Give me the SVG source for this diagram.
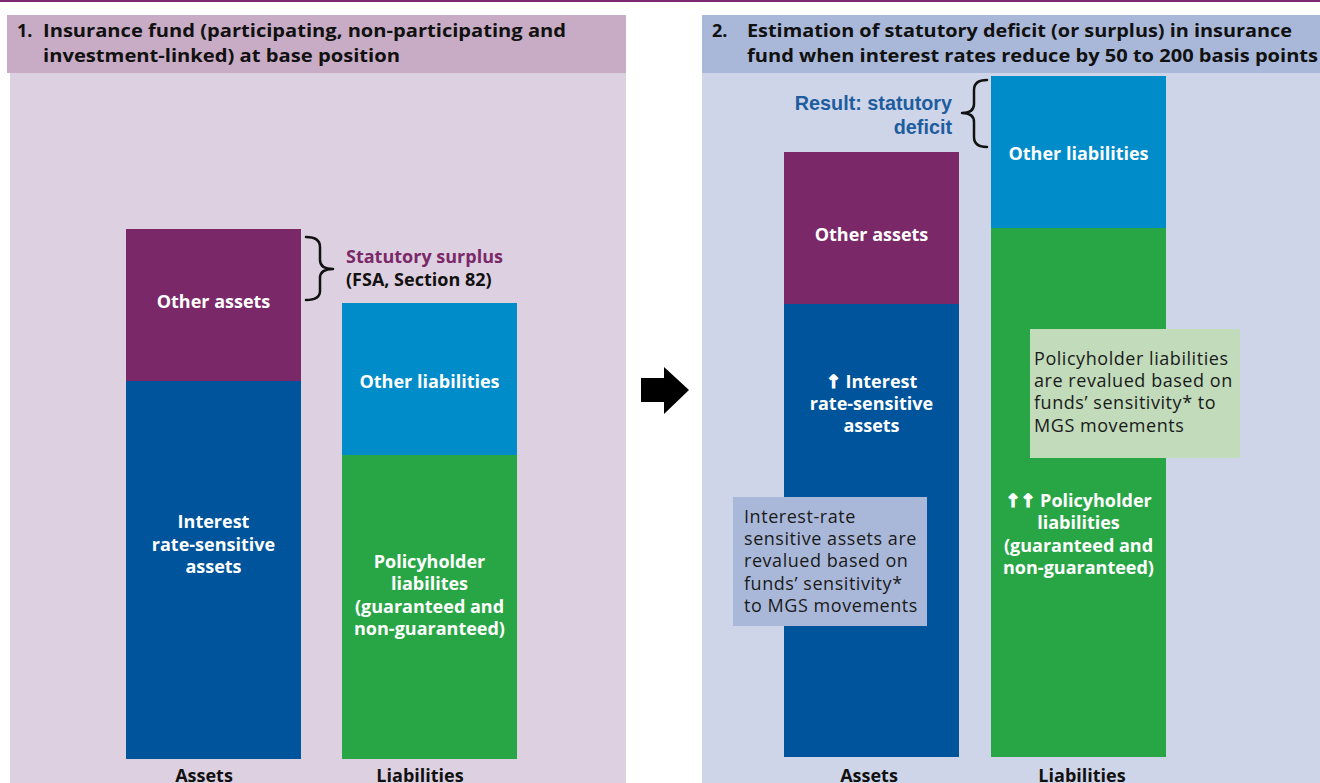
<svg xmlns="http://www.w3.org/2000/svg" width="1320" height="783" viewBox="0 0 1320 783">
<style>
.hdr{font-family:"Open Sans","Noto Sans",sans-serif;font-weight:700;font-size:18px;fill:#111}
.lbl{font-family:"Open Sans","Noto Sans","DejaVu Sans",sans-serif;font-weight:700;font-size:18px;fill:#fff;text-anchor:middle}
.arr{stroke:#fff;stroke-width:1.2}
.axis{font-family:"Open Sans","Noto Sans",sans-serif;font-weight:700;font-size:18px;fill:#111;text-anchor:middle}
.note{font-family:"Open Sans","Noto Sans",sans-serif;font-size:18px;fill:#1a1a1a;letter-spacing:0.55px}
.res{font-family:"Liberation Sans",Arial,sans-serif;font-weight:700;font-size:19.8px;fill:#1d5d9f;text-anchor:end}
.brace{fill:none;stroke:#111;stroke-width:2.5;stroke-linecap:round;stroke-linejoin:round}
</style>
<rect x="0" y="0" width="1320" height="783" fill="#ffffff"/>
<rect x="0" y="0" width="1320" height="2" fill="#7b2a6f"/>

<g id="panel1">
<rect x="10" y="73" width="616" height="710" fill="#ddd0e0"/>
<rect x="7" y="15" width="619" height="58" fill="#c8abc4"/>
<text class="hdr" x="17" y="37">1.</text>
<text class="hdr" x="43" y="37" textLength="523" lengthAdjust="spacingAndGlyphs">Insurance fund (participating, non-participating and</text>
<text class="hdr" x="43" y="62" textLength="357" lengthAdjust="spacingAndGlyphs">investment-linked) at base position</text>
</g>

<g id="panel2">
<rect x="702" y="73" width="618" height="710" fill="#cfd5e8"/>
<rect x="702" y="15" width="618" height="58" fill="#a9b8d9"/>
<text class="hdr" x="712" y="37">2.</text>
<text class="hdr" x="747" y="37" textLength="545" lengthAdjust="spacingAndGlyphs">Estimation of statutory deficit (or surplus) in insurance</text>
<text class="hdr" x="747" y="62" textLength="571" lengthAdjust="spacingAndGlyphs">fund when interest rates reduce by 50 to 200 basis points</text>
</g>

<g id="p1-other-assets">
<rect x="126" y="229" width="175" height="152" fill="#7b2869"/>
<text class="lbl" x="213.5" y="308">Other assets</text>
</g>
<g id="p1-rate-sensitive-assets">
<rect x="126" y="381" width="175" height="378" fill="#00549b"/>
<text class="lbl" x="213.5" y="528">Interest</text>
<text class="lbl" x="213.5" y="551">rate-sensitive</text>
<text class="lbl" x="213.5" y="573">assets</text>
</g>
<g id="p1-other-liabilities">
<rect x="342" y="303" width="175" height="152" fill="#008bc9"/>
<text class="lbl" x="429.5" y="388">Other liabilities</text>
</g>
<g id="p1-policyholder-liabilities">
<rect x="342" y="455" width="175" height="304" fill="#28a646"/>
<text class="lbl" x="429.5" y="568">Policyholder</text>
<text class="lbl" x="429.5" y="590">liabilites</text>
<text class="lbl" x="429.5" y="613">(guaranteed and</text>
<text class="lbl" x="429.5" y="635">non-guaranteed)</text>
</g>
<g id="p1-surplus-label">
<text class="hdr" x="346" y="263" style="fill:#7b2869">Statutory surplus</text>
<text class="hdr" x="346" y="286">(FSA, Section 82)</text>
</g>

<g id="p2-other-assets">
<rect x="784" y="152" width="175" height="152" fill="#7b2869"/>
<text class="lbl" x="871.5" y="241">Other assets</text>
</g>
<g id="p2-rate-sensitive-assets">
<rect x="784" y="304" width="175" height="453" fill="#00549b"/>
<text class="lbl" x="871.5" y="388"><tspan class="arr">↑</tspan> Interest</text>
<text class="lbl" x="871.5" y="410">rate-sensitive</text>
<text class="lbl" x="871.5" y="432">assets</text>
</g>
<g id="p2-other-liabilities">
<rect x="991" y="76" width="175" height="152" fill="#008bc9"/>
<text class="lbl" x="1078.5" y="160">Other liabilities</text>
</g>
<g id="p2-policyholder-liabilities">
<rect x="991" y="228" width="175" height="529" fill="#28a646"/>
<text class="lbl" x="1078.5" y="507"><tspan class="arr">↑↑</tspan> Policyholder</text>
<text class="lbl" x="1078.5" y="529">liabilities</text>
<text class="lbl" x="1078.5" y="552">(guaranteed and</text>
<text class="lbl" x="1078.5" y="574">non-guaranteed)</text>
</g>
<g id="p2-liabilities-note">
<rect x="1030" y="329" width="210" height="129" fill="#c1dbbb"/>
<text class="note" x="1034" y="365">Policyholder liabilities</text>
<text class="note" x="1034" y="387">are revalued based on</text>
<text class="note" x="1034" y="409">funds’ sensitivity* to</text>
<text class="note" x="1034" y="432">MGS movements</text>
</g>
<g id="p2-assets-note">
<rect x="733" y="497" width="194" height="129" fill="#a9b8d9"/>
<text class="note" x="744" y="523">Interest-rate</text>
<text class="note" x="744" y="545">sensitive assets are</text>
<text class="note" x="744" y="567">revalued based on</text>
<text class="note" x="744" y="590">funds’ sensitivity*</text>
<text class="note" x="744" y="612">to MGS movements</text>
</g>
<g id="p2-deficit-label">
<text class="res" x="952" y="110">Result: statutory</text>
<text class="res" x="952" y="134">deficit</text>
</g>

<g id="axis-labels">
<text class="axis" x="204" y="782">Assets</text>
<text class="axis" x="420" y="782">Liabilities</text>
<text class="axis" x="869" y="782">Assets</text>
<text class="axis" x="1082" y="782">Liabilities</text>
</g>

<g id="connectors">
<path class="brace" d="M306,237 Q320,237 320,247 L320,260 Q320,269 333,269 Q320,269 320,278 L320,291 Q320,300 306,300"/>
<path class="brace" d="M987,80 Q974,80 974,90 L974,104 Q974,113 962,113 Q974,113 974,122 L974,137 Q974,147 987,147"/>
<polygon points="641,378 664,378 664,367 689,390 664,414 664,402 641,402" fill="#000"/>
</g>
</svg>
